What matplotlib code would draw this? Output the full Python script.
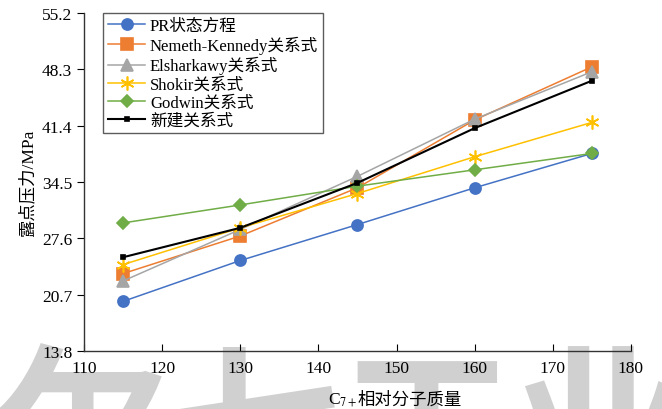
import matplotlib
matplotlib.use('Agg')
import matplotlib.pyplot as plt

plt.rcParams['font.family'] = ['Liberation Serif', 'Noto Sans CJK SC']
plt.rcParams['mathtext.fontset'] = 'stix'

# C7+ molecular weight vs dew point pressure
mw = [115, 130, 145, 160, 175]
pr_eos = [19.9, 24.9, 29.3, 33.8, 38.0]
nemeth = [23.3, 27.9, 33.8, 42.1, 48.6]
elsharkawy = [22.4, 28.7, 35.2, 42.2, 48.0]
shokir = [24.4, 28.9, 33.1, 37.6, 41.8]
godwin = [29.5, 31.7, 34.0, 36.0, 38.0]
new_corr = [25.3, 28.9, 34.4, 41.1, 46.9]

yticks = [13.8, 20.7, 27.6, 34.5, 41.4, 48.3, 55.2]
xticks = [110, 120, 130, 140, 150, 160, 170, 180]

fig = plt.figure(figsize=(6.62, 4.10), dpi=100)

# background watermark, kept underneath the axes
fig.text(-0.01, -0.2, '尔七工业', fontsize=125, color='#d0d0d0',
         family='Noto Sans CJK SC', weight='bold', zorder=-5)

ax = fig.add_axes([0.127, 0.141, 0.826, 0.825])
ax.patch.set_alpha(0)

series = [
    (pr_eos, 'PR状态方程', '#4472C4', 'o', 8),
    (nemeth, 'Nemeth-Kennedy关系式', '#ED7D31', 's', 8),
    (elsharkawy, 'Elsharkawy关系式', '#A5A5A5', '^', 8),
    (shokir, 'Shokir关系式', '#FFC000', (6, 2, 0), 10),
    (godwin, 'Godwin关系式', '#70AD47', 'D', 6),
    (new_corr, '新建关系式', 'black', 's', 3.5),
]
for vals, lab, col, mk, ms in series:
    lw = 1.5 if col == 'black' else 1.1
    ax.plot(mw, vals, color=col, marker=mk, markersize=ms, lw=lw,
            markeredgewidth=1.2, label=lab)

ax.set_xlim(110, 180)
ax.set_ylim(13.8, 55.2)
ax.set_xticks(xticks)
ax.set_yticks(yticks)
ax.set_yticklabels(['%.1f' % v for v in yticks])
ax.tick_params(axis='x', direction='in', length=5, labelsize=12.5, pad=6)
ax.tick_params(axis='y', direction='out', length=5, labelsize=12.5)
for s in ['top', 'right']:
    ax.spines[s].set_visible(False)
for s in ['left', 'bottom']:
    ax.spines[s].set_linewidth(1.0)
    ax.spines[s].set_color('#333333')

# x label: C7+ with subscript, then the Chinese part right after it
xl = ax.text(0.5, -0.115, r'C$_{7+}$', transform=ax.transAxes, fontsize=12.5,
             ha='right', va='top')
ax.annotate('相对分子质量', xy=(1, 0), xycoords=xl, xytext=(0, 0),
            textcoords='offset points', fontsize=12.5, ha='left', va='bottom')
ax.set_ylabel('露点压力/MPa', fontsize=12.5, labelpad=4)

leg = ax.legend(loc='upper left', bbox_to_anchor=(0.035, 1.0), fontsize=12,
                frameon=True, fancybox=False, edgecolor='#333333',
                handlelength=2.2, handletextpad=0.3, labelspacing=0.12,
                borderpad=0.3, borderaxespad=0)
leg.get_frame().set_linewidth(1.0)

fig.savefig('out.png', dpi=100)
